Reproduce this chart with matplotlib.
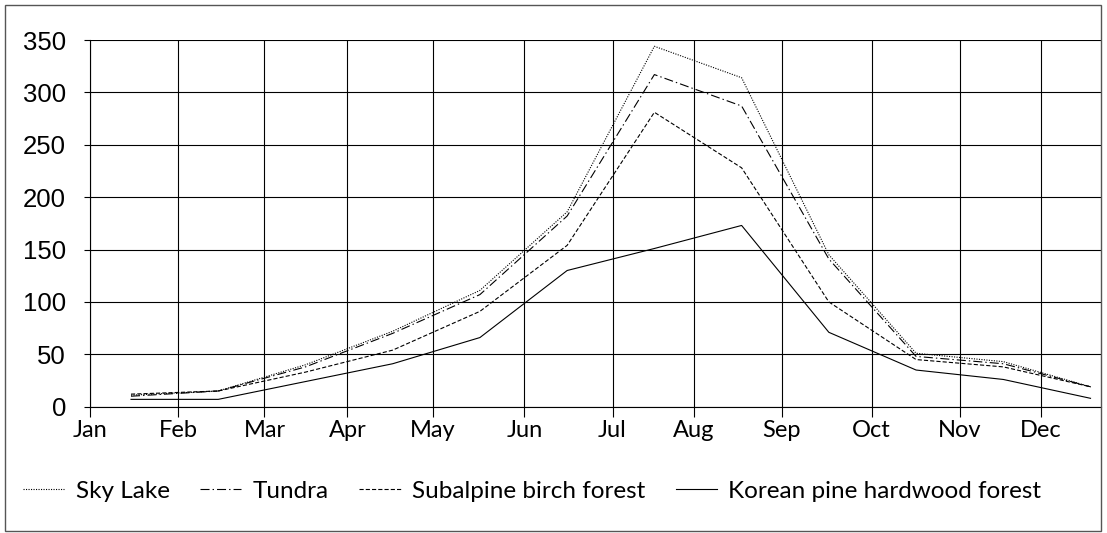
import matplotlib
matplotlib.use("Agg")
import matplotlib.pyplot as plt
from matplotlib.patches import Rectangle

months = ["Jan", "Feb", "Mar", "Apr", "May", "Jun", "Jul", "Aug", "Sep", "Oct", "Nov", "Dec"]
sky_lake = [11, 15, 40, 72, 111, 186, 344, 314, 145, 51, 43, 19]
tundra = [10, 15, 38, 70, 107, 182, 317, 287, 141, 48, 41, 19]
subalpine = [12, 15, 33, 54, 91, 154, 281, 228, 100, 45, 38, 19]
korean_pine = [7, 7, 24, 41, 66, 130, 151, 173, 71, 35, 26, 8]
series_names = ["Sky Lake", "Tundra", "Subalpine birch forest", "Korean pine hardwood forest"]
y_ticks = [0, 50, 100, 150, 200, 250, 300, 350]
# month boundary tick positions in point-index units (points are mid-month)
month_tick_pos = [-0.47, 0.54, 1.53, 2.48, 3.46, 4.51, 5.52, 6.45, 7.46, 8.49, 9.5, 10.43]

plt.rcParams["lines.scale_dashes"] = False

W, H = 1107, 533
fig = plt.figure(figsize=(W / 100, H / 100), dpi=100)
ax = fig.add_axes([90 / W, 1 - 406.7 / H, (1101 - 90) / W, (406.7 - 40) / H])

x = list(range(len(months)))
styles = [
    dict(dashes=(0.8, 1.0)),
    dict(dashes=(6.5, 2.2, 1.0, 2.2)),
    dict(dashes=(3.0, 1.5)),
    dict(linestyle="-"),
]
lines = []
for vals, name, st in zip([sky_lake, tundra, subalpine, korean_pine], series_names, styles):
    ln, = ax.plot(x, vals, color="black", lw=0.8, label=name, **st)
    lines.append(ln)

ax.set_xlim(-0.47, 11.12)
ax.set_ylim(0, 350)
ax.set_yticks(y_ticks)
ax.set_yticklabels([str(v) for v in y_ticks], fontfamily="Liberation Sans", fontsize=18.5)
ax.set_xticks(month_tick_pos)
ax.set_xticklabels(months, fontfamily="Lato", fontsize=17)
ax.tick_params(axis="x", direction="out", length=7.2, width=0.8, pad=2.5, color="black")
ax.tick_params(axis="y", direction="out", length=4.3, width=0.8, pad=13, color="black")
ax.grid(True, color="black", lw=0.8)
ax.set_axisbelow(True)
for s in ["top", "right"]:
    ax.spines[s].set_visible(False)
for s in ["left", "bottom"]:
    ax.spines[s].set_linewidth(0.8)

leg = fig.legend(handles=lines, loc="center left", bbox_to_anchor=(23 / W, 1 - 491 / H),
                 ncol=4, frameon=False, prop={"family": "Lato", "size": 17.5},
                 handlelength=1.7, handletextpad=0.47, columnspacing=1.25,
                 borderpad=0, borderaxespad=0)

fig.patches.append(Rectangle((5 / W, 1 - 531 / H), 1096 / W, 526 / H, transform=fig.transFigure,
                             fill=False, edgecolor="#555555", lw=1.0))

fig.savefig("out.png", dpi=100)
